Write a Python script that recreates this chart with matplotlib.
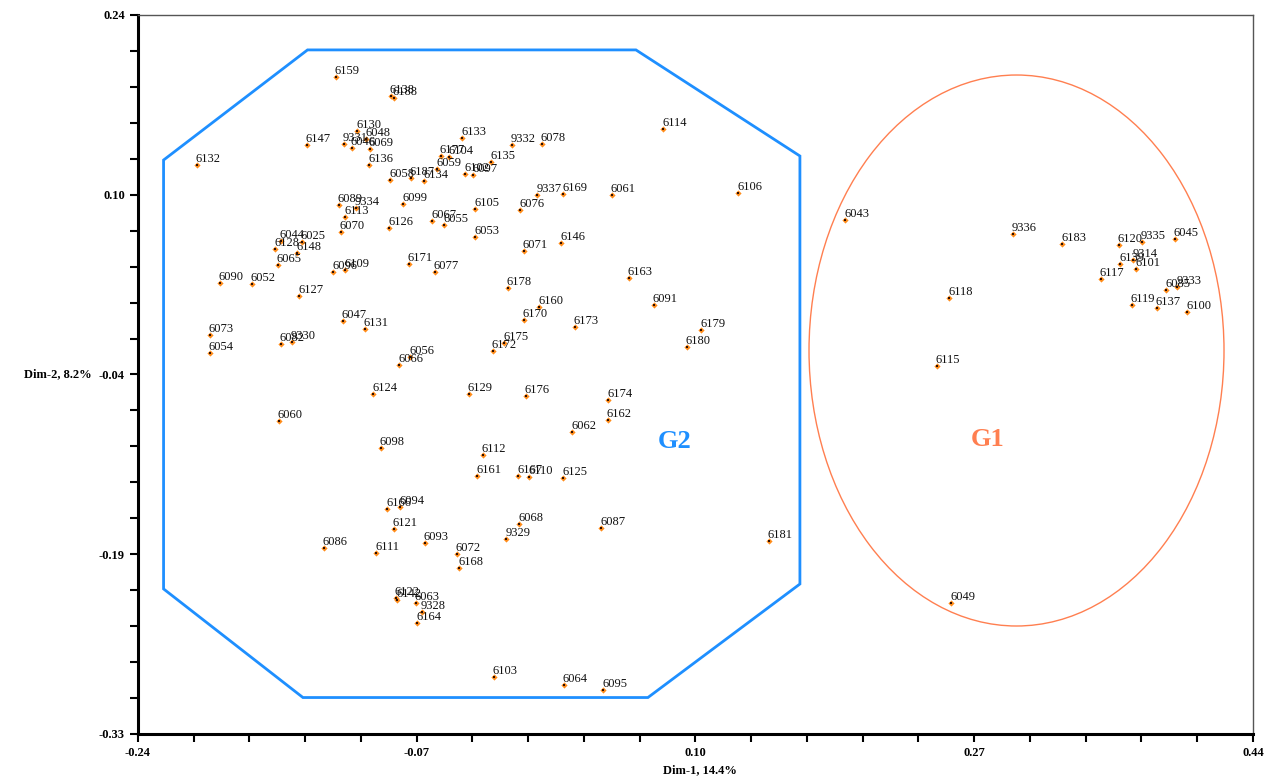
import matplotlib
matplotlib.use("Agg")
import matplotlib.pyplot as plt
from matplotlib.patches import Polygon, Ellipse
from matplotlib.ticker import AutoMinorLocator, FixedLocator

# sample ids with their coordinates on the first two dimensions
names = ["6159", "6138", "6188", "6147", "6132", "6130", "9331", "6046", "6048", "6069",
         "6136", "6058", "6187", "6134", "6177", "6104", "6059", "6133", "6102", "6097",
         "6135", "9332", "6078", "6114", "9337", "6169", "6061", "6106", "6105", "6076",
         "6067", "6055", "6053", "6071", "6146", "6089", "9334", "6113", "6070", "6099",
         "6126", "6044", "6128", "6025", "6148", "6065", "6090", "6052", "6127", "6096",
         "6109", "6171", "6077", "6047", "6131", "6073", "6054", "6082", "9330", "6056",
         "6066", "6124", "6178", "6163", "6160", "6170", "6173", "6091", "6179", "6180",
         "6175", "6172", "6129", "6176", "6174", "6162", "6062", "6060", "6098", "6112",
         "6161", "6167", "6110", "6125", "6166", "6094", "6121", "6086", "6111", "6093",
         "6072", "6168", "6068", "9329", "6087", "6122", "6142", "6063", "9328", "6164",
         "6103", "6064", "6095", "6181",
         "6043", "9336", "6183", "6120", "9335", "6045", "6139", "9314", "6101", "6117",
         "6085", "9333", "6118", "6119", "6137", "6100", "6115", "6049"]
dim1 = [-0.1194, -0.0857, -0.0841, -0.1371, -0.2042, -0.1063, -0.1144, -0.1097, -0.1009, -0.0985,
        -0.0991, -0.0860, -0.0737, -0.0654, -0.0552, -0.0502, -0.0576, -0.0421, -0.0403, -0.0355,
        -0.0247, -0.0121, 0.0064, 0.0804, 0.0035, 0.0194, 0.0489, 0.1261, -0.0343, -0.0068,
        -0.0604, -0.0533, -0.0343, -0.0047, 0.0182, -0.1175, -0.1070, -0.1135, -0.1162, -0.0782,
        -0.0868, -0.1530, -0.1563, -0.1402, -0.1428, -0.1548, -0.1902, -0.1707, -0.1418, -0.1209,
        -0.1136, -0.0749, -0.0591, -0.1150, -0.1017, -0.1963, -0.1961, -0.1530, -0.1463, -0.0741,
        -0.0808, -0.0965, -0.0145, 0.0594, 0.0047, -0.0048, 0.0265, 0.0745, 0.1034, 0.0948,
        -0.0166, -0.0237, -0.0383, -0.0034, 0.0469, 0.0465, 0.0247, -0.1542, -0.0920, -0.0298,
        -0.0331, -0.0081, -0.0015, 0.0194, -0.0881, -0.0800, -0.0841, -0.1267, -0.0947, -0.0650,
        -0.0456, -0.0441, -0.0075, -0.0154, 0.0424, -0.0828, -0.0820, -0.0705, -0.0668, -0.0697,
        -0.0231, 0.0196, 0.0438, 0.1448,
        0.1912, 0.2935, 0.3237, 0.3583, 0.3721, 0.3924, 0.3591, 0.3670, 0.3688, 0.3473,
        0.3871, 0.3938, 0.2548, 0.3662, 0.3813, 0.3998, 0.2471, 0.2560]
dim2 = [0.1908, 0.1758, 0.1744, 0.1369, 0.1211, 0.1480, 0.1380, 0.1346, 0.1417, 0.1340,
        0.1208, 0.1090, 0.1110, 0.1084, 0.1285, 0.1272, 0.1179, 0.1423, 0.1141, 0.1133,
        0.1235, 0.1372, 0.1380, 0.1499, 0.0971, 0.0979, 0.0971, 0.0989, 0.0860, 0.0852,
        0.0767, 0.0733, 0.0640, 0.0529, 0.0595, 0.0895, 0.0868, 0.0801, 0.0681, 0.0902,
        0.0715, 0.0611, 0.0545, 0.0604, 0.0516, 0.0418, 0.0273, 0.0265, 0.0170, 0.0360,
        0.0376, 0.0426, 0.0360, -0.0026, -0.0092, -0.0137, -0.0280, -0.0211, -0.0195, -0.0314,
        -0.0375, -0.0605, 0.0238, 0.0315, 0.0083, -0.0016, -0.0076, 0.0103, -0.0097, -0.0230,
        -0.0203, -0.0264, -0.0603, -0.0620, -0.0654, -0.0808, -0.0908, -0.0816, -0.1030, -0.1091,
        -0.1252, -0.1252, -0.1265, -0.1268, -0.1514, -0.1503, -0.1675, -0.1828, -0.1863, -0.1786,
        -0.1875, -0.1982, -0.1638, -0.1752, -0.1665, -0.2220, -0.2238, -0.2262, -0.2335, -0.2422,
        -0.2851, -0.2912, -0.2951, -0.1770,
        0.0775, 0.0664, 0.0587, 0.0579, 0.0603, 0.0622, 0.0426, 0.0460, 0.0384, 0.0307,
        0.0222, 0.0246, 0.0154, 0.0101, 0.0077, 0.0043, -0.0383, -0.2262]

# group outlines
g2_hull = [(-0.1366, 0.2123), (0.0637, 0.2123), (0.1637, 0.1282), (0.1637, -0.2111),
           (0.0710, -0.3011), (-0.1394, -0.3011), (-0.2244, -0.2150), (-0.2244, 0.1250)]
g1_center = (0.2958, -0.0260)
g1_size = (0.2531, 0.4368)

xticks = [-0.24, -0.07, 0.10, 0.27, 0.44]
yticks = [-0.33, -0.1875, -0.045, 0.0975, 0.24]
ylabels = ["-0.33", "-0.19", "-0.04", "0.10", "0.24"]

serif = "Liberation Serif"
blue = "#1E8FFF"
coral = "#FF7F50"

fig = plt.figure(figsize=(12.86, 7.8), dpi=100)
ax = fig.add_axes([0.1073, 0.059, 0.867, 0.9218])

ax.add_patch(Polygon(g2_hull, closed=True, fill=False, edgecolor=blue, lw=2))
ax.add_patch(Ellipse(g1_center, g1_size[0], g1_size[1], fill=False, edgecolor=coral, lw=1))

ax.scatter(dim1, dim2, s=10, marker="D", color="#FF8C1A", linewidths=0, zorder=3)
ax.scatter(dim1, dim2, s=2, marker="s", color="#301000", linewidths=0, zorder=4)
for n, x, y in zip(names, dim1, dim2):
    ax.annotate(n, (x, y), xytext=(-1, 3), textcoords="offset pixels",
                fontsize=9, family=serif, color="#111111", va="baseline", ha="left")

ax.text(0.0875, -0.0985, "G2", color=blue, fontsize=19, fontweight="bold",
        family=serif, ha="center", va="center")
ax.text(0.2784, -0.0969, "G1", color=coral, fontsize=19, fontweight="bold",
        family=serif, ha="center", va="center")

ax.set_xlim(-0.24, 0.44)
ax.set_ylim(-0.33, 0.24)
ax.xaxis.set_major_locator(FixedLocator(xticks))
ax.set_xticklabels(["%.2f" % v for v in xticks])
ax.yaxis.set_major_locator(FixedLocator(yticks))
ax.set_yticklabels(ylabels)
ax.xaxis.set_minor_locator(AutoMinorLocator(5))
ax.yaxis.set_minor_locator(AutoMinorLocator(5))
ax.tick_params(which="both", direction="out", length=6, width=1.5, color="black")
for lab in ax.get_xticklabels() + ax.get_yticklabels():
    lab.set_family(serif)
    lab.set_fontweight("bold")
    lab.set_fontsize(9)

for s in ["left", "bottom"]:
    ax.spines[s].set_linewidth(2.2)
    ax.spines[s].set_color("black")
for s in ["top", "right"]:
    ax.spines[s].set_linewidth(1)
    ax.spines[s].set_color("#555555")

fig.text(0.544, 0.013, "Dim-1, 14.4%", family=serif, fontweight="bold", fontsize=9,
         ha="center", va="center")
fig.text(0.045, 0.5205, "Dim-2, 8.2%", family=serif, fontweight="bold", fontsize=9,
         ha="center", va="center")

fig.savefig("out.png", dpi=100)
